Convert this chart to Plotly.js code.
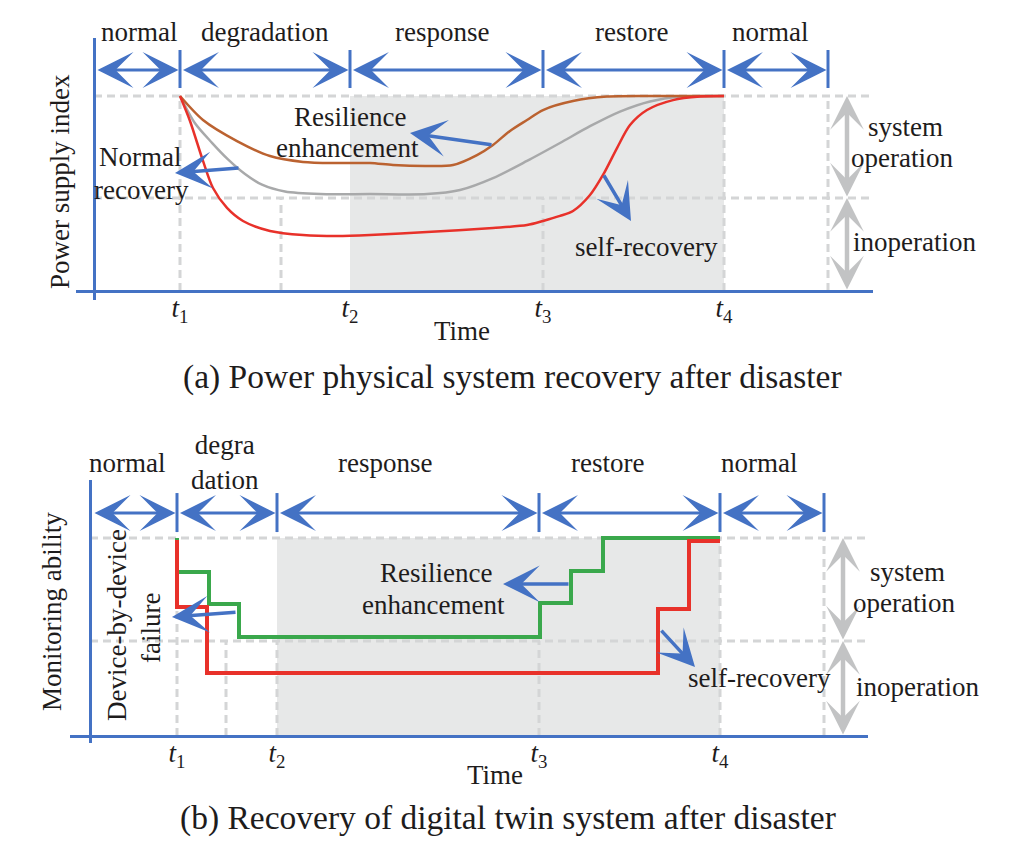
<!DOCTYPE html>
<html>
<head>
<meta charset="utf-8">
<script src="https://cdn.plot.ly/plotly-3.0.1.min.js"></script>
<style>html,body{margin:0;padding:0;background:#fff;}#chart{width:1029px;height:853px;}</style>
</head>
<body>
<div id="chart"></div>
<script>
// ---------------- DATA ----------------
// Panel (a): power physical system (time in arbitrary units, index normalised to 1)
const phaseLabelsA = ['normal', 'degradation', 'response', 'restore', 'normal'];
const phaseBoundsA = [96, 180, 350, 543, 724, 828];
const tickTimesA = [180, 350, 543, 724];
const tickLabels = ['<i>t</i><sub>1</sub>', '<i>t</i><sub>2</sub>', '<i>t</i><sub>3</sub>', '<i>t</i><sub>4</sub>'];
const normalLevelA = 1.0;
const thresholdA = 0.477;

const enhancedX = [180, 203, 237, 270, 303, 337, 370, 393, 427, 453, 477, 493, 510, 527, 543, 573, 607, 650, 724];
const enhancedY = [1.000, 0.877, 0.769, 0.692, 0.662, 0.656, 0.656, 0.646, 0.641, 0.646, 0.697, 0.749, 0.821, 0.877, 0.928, 0.974, 0.997, 1.000, 1.000];

const normalRecX = [180, 195, 212, 228, 245, 262, 285, 320, 370, 427, 460, 493, 527, 560, 590, 620, 650, 680, 724];
const normalRecY = [1.000, 0.860, 0.760, 0.675, 0.600, 0.545, 0.510, 0.497, 0.497, 0.497, 0.518, 0.579, 0.667, 0.759, 0.845, 0.920, 0.972, 0.997, 1.000];

const selfRecX = [180, 190, 203, 213, 227, 243, 270, 303, 337, 370, 427, 493, 527, 543, 560, 573, 590, 603, 617, 630, 647, 673, 700, 724];
const selfRecY = [1.000, 0.872, 0.667, 0.528, 0.426, 0.359, 0.308, 0.287, 0.282, 0.287, 0.303, 0.323, 0.338, 0.359, 0.385, 0.410, 0.492, 0.595, 0.733, 0.851, 0.928, 0.979, 0.997, 1.000];

// Panel (b): monitoring ability of the digital twin system
const phaseLabelsB = ['normal', 'degra<br>dation', 'response', 'restore', 'normal'];
const phaseBoundsB = [93, 177, 277, 539, 720, 824];
const tickTimesB = [177, 277, 539, 720];
const normalLevelB = 1.0;
const thresholdB = 0.48;

const enhancedStepX = [177, 177, 209, 239, 540, 571, 603, 720];
const enhancedStepY = [1.000, 0.828, 0.667, 0.500, 0.672, 0.833, 1.000, 1.000];

const selfStepX = [177, 177, 207, 658, 689, 720];
const selfStepY = [0.990, 0.652, 0.318, 0.641, 0.985, 0.985];

// ---------------- STYLE ----------------
const W = 1029, H = 853;
const BLUE = '#4472C4', DASH = '#d4d5d6', SHADE = '#e7e8e8', GREYARR = '#c2c3c4';
const FONT = '"Liberation Serif", "Times New Roman", Times, serif';
const TXT = '#1e1c1c';
const FS = 27, CAP = 33.5;
const PX = (px) => px / W;
const PY = (py) => 1 - py / H;

const shapes = [];
const annotations = [];

function label(text, px, py, size, extra) {
  annotations.push(Object.assign({
    text: text, x: PX(px), y: PY(py), xref: 'paper', yref: 'paper',
    showarrow: false, xanchor: 'center', yanchor: 'middle',
    font: {family: FONT, size: size || FS, color: TXT}
  }, extra || {}));
}
function arrow(xr, yr, x0, y0, x1, y1, color, width, size, both) {
  annotations.push({
    text: '', xref: xr, yref: yr, axref: xr, ayref: yr,
    x: x1, y: y1, ax: x0, ay: y0, showarrow: true,
    arrowhead: 3, startarrowhead: 3, arrowside: both ? 'end+start' : 'end',
    arrowsize: size, startarrowsize: size, arrowwidth: width, arrowcolor: color,
    standoff: 0, startstandoff: 0
  });
}
function dashLine(xr, yr, x0, y0, x1, y1) {
  shapes.push({type: 'line', xref: xr, yref: yr, x0: x0, y0: y0, x1: x1, y1: y1,
    layer: 'below', line: {color: DASH, width: 3, dash: '8px,5px'}});
}

function buildPanel(xr, yr, bounds, ticks, thr, top, rowY, tickLo, tickHi, xLeft, xRight, shadeFrom, shadeTo, extraDash, grayX) {
  shapes.push({type: 'rect', xref: xr, yref: yr, x0: shadeFrom, x1: shadeTo, y0: 0, y1: top,
    layer: 'below', fillcolor: SHADE, line: {width: 0}});
  dashLine(xr, yr, xLeft, top, xRight, top);
  dashLine(xr, yr, xLeft, thr, xRight, thr);
  dashLine(xr, yr, ticks[0], 0, ticks[0], top);
  dashLine(xr, yr, ticks[3], 0, ticks[3], top);
  dashLine(xr, yr, bounds[5], 0, bounds[5], top);
  extraDash.forEach(x => dashLine(xr, yr, x, 0, x, thr));
  for (let i = 1; i < bounds.length; i++) {
    shapes.push({type: 'line', xref: xr, yref: yr, x0: bounds[i], x1: bounds[i], y0: tickLo, y1: tickHi,
      line: {color: BLUE, width: 3}});
  }
  for (let i = 0; i < bounds.length - 1; i++) {
    arrow(xr, yr, bounds[i] + (i === 0 ? 0 : 1.5), rowY, bounds[i + 1] - 1.5, rowY, BLUE, 3, 2.0, true);
  }
  arrow(xr, yr, grayX, thr, grayX, top, GREYARR, 4.5, 1.25, true);
  arrow(xr, yr, grayX, 0, grayX, thr, GREYARR, 4.5, 1.25, true);
}

buildPanel('x', 'y', phaseBoundsA, tickTimesA, thresholdA, normalLevelA, 1.133, 1.041, 1.236, 94, 873,
  tickTimesA[1], tickTimesA[3], [281, tickTimesA[2]], 847);
buildPanel('x2', 'y2', phaseBoundsB, tickTimesB, thresholdB, normalLevelB, 1.126, 1.030, 1.227, 90, 870,
  tickTimesB[1], tickTimesB[3], [226, tickTimesB[1], tickTimesB[2]], 843);

// pointer arrows
arrow('x', 'y', 240, 0.631, 175, 0.605, BLUE, 3.5, 1.75, false);
arrow('x', 'y', 493, 0.749, 410, 0.810, BLUE, 3.5, 1.75, false);
arrow('x', 'y', 603, 0.600, 631, 0.359, BLUE, 3.5, 1.75, false);
arrow('x2', 'y2', 237, 0.626, 172, 0.601, BLUE, 3.5, 1.75, false);
arrow('x2', 'y2', 570, 0.768, 503, 0.768, BLUE, 3.5, 1.75, false);
arrow('x2', 'y2', 660, 0.540, 695, 0.348, BLUE, 3.5, 1.75, false);

// Text panel (a)
const phaseCentersA = [139, 265, 442, 631, 770];
phaseLabelsA.forEach((t, i) => label(t, phaseCentersA[i], 32));
label('Resilience', 350, 117); label('enhancement', 347, 148);
label('Normal', 140, 157); label('recovery', 141, 190);
label('self-recovery', 646, 247);
label('system', 905, 127); label('operation', 902, 158);
label('inoperation', 914, 242);
label('Power supply index', 60, 182, FS, {textangle: -90});
label('Time', 462, 331);
label('(a) Power physical system recovery after disaster', 512, 377, CAP);

// Text panel (b)
const phaseCentersB = [127, 225, 385, 607, 759];
const phaseYB = [463, 462, 463, 463, 463];
phaseLabelsB.forEach((t, i) => label(t, phaseCentersB[i], phaseYB[i]));
label('Resilience', 436, 573); label('enhancement', 433, 605);
label('Device-by-device', 117, 625, FS, {textangle: -90});
label('failure', 151, 628, FS, {textangle: -90});
label('self-recovery', 759, 678);
label('system', 907, 572); label('operation', 904, 603);
label('inoperation', 917, 687);
label('Monitoring ability', 52, 612, FS, {textangle: -90});
label('Time', 495, 775);
label('(b) Recovery of digital twin system after disaster', 508, 818, CAP);

const traces = [
  {x: normalRecX, y: normalRecY, mode: 'lines', line: {color: '#a8a9aa', width: 2.5, shape: 'spline', smoothing: 0.8}, xaxis: 'x', yaxis: 'y', hoverinfo: 'skip'},
  {x: enhancedX, y: enhancedY, mode: 'lines', line: {color: '#bb6230', width: 2.5, shape: 'spline', smoothing: 0.8}, xaxis: 'x', yaxis: 'y', hoverinfo: 'skip'},
  {x: selfRecX, y: selfRecY, mode: 'lines', line: {color: '#e8312a', width: 2.5, shape: 'spline', smoothing: 0.8}, xaxis: 'x', yaxis: 'y', hoverinfo: 'skip'},
  {x: enhancedStepX, y: enhancedStepY, mode: 'lines', line: {color: '#3aa84c', width: 4, shape: 'hv'}, xaxis: 'x2', yaxis: 'y2', hoverinfo: 'skip'},
  {x: selfStepX, y: selfStepY, mode: 'lines', line: {color: '#e8312a', width: 4, shape: 'hv'}, xaxis: 'x2', yaxis: 'y2', hoverinfo: 'skip'}
];

function xAxis(dom0, dom1, pos, ticks) {
  return {domain: [PX(dom0), PX(dom1)], range: [dom0, dom1], anchor: 'free', position: PY(pos),
    showline: true, linecolor: BLUE, linewidth: 3, showgrid: false, zeroline: false,
    tickmode: 'array', tickvals: ticks, ticktext: tickLabels, ticks: '', ticklabelstandoff: -8,
    tickfont: {family: FONT, size: FS, color: TXT}, fixedrange: true};
}
function yAxis(top, bottom, zeroPy, onePy, xpos) {
  const k = zeroPy - onePy;
  return {domain: [PY(bottom), PY(top)], range: [(zeroPy - bottom) / k, (zeroPy - top) / k],
    anchor: 'free', position: PX(xpos), showline: true, linecolor: BLUE, linewidth: 3,
    showgrid: false, zeroline: false, showticklabels: false, ticks: '', fixedrange: true};
}

const layout = {
  width: W, height: H, margin: {l: 0, r: 0, t: 0, b: 0},
  font: {family: FONT},
  paper_bgcolor: '#fff', plot_bgcolor: 'rgba(0,0,0,0)', showlegend: false,
  xaxis: xAxis(76, 873, 291, tickTimesA),
  yaxis: yAxis(38, 300, 291, 96, 94),
  xaxis2: xAxis(70, 868, 736, tickTimesB),
  yaxis2: yAxis(480, 743, 736, 538, 90),
  shapes: shapes, annotations: annotations
};
Plotly.newPlot('chart', traces, layout, {staticPlot: true, displayModeBar: false});
</script>
</body>
</html>
